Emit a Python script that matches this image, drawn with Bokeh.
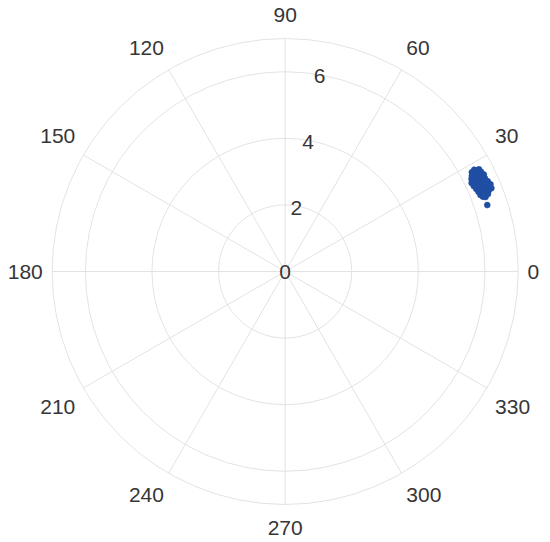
import math
from bokeh.plotting import figure
from bokeh.models import Range1d, ColumnDataSource
from bokeh.core.properties import value
from bokeh.embed import file_html
from bokeh.resources import INLINE

# data (theta in degrees, radius)
theta_deg = [28.0, 27.7, 27.4, 27.8, 27.1, 26.7, 27.0, 26.4, 26.1, 25.7,
             26.0, 25.4, 25.1, 24.7, 25.0, 24.4, 24.1, 23.7, 24.0, 23.4,
             23.1, 22.7, 23.0, 22.4, 22.1, 21.7, 22.0, 21.4, 21.1, 20.7,
             20.9, 26.5, 25.2, 24.2, 23.2, 22.2, 28.3, 26.2, 21.5, 20.4,
             18.2]
radius = [6.35, 6.50, 6.42, 6.58, 6.30, 6.45, 6.60, 6.25, 6.38, 6.52,
          6.64, 6.20, 6.33, 6.48, 6.62, 6.22, 6.36, 6.50, 6.66, 6.25,
          6.40, 6.55, 6.70, 6.28, 6.42, 6.58, 6.68, 6.30, 6.45, 6.35,
          6.52, 6.40, 6.55, 6.58, 6.52, 6.46, 6.45, 6.48, 6.40, 6.42,
          6.39]

r_ticks = [2, 4, 6]
r_max = 7
theta_ticks = [0, 30, 60, 90, 120, 150, 180, 210, 240, 270, 300, 330]
theta_labels = [str(t) for t in theta_ticks]

grid_color = "#e3e3e3"
text_color = "#363636"
font = "Liberation Sans"

p = figure(width=550, height=542, output_backend="svg", toolbar_location=None,
           x_range=Range1d(-8.55, 7.97), y_range=Range1d(-8.14, 8.14),
           min_border=0)
p.axis.visible = False
p.grid.visible = False
p.outline_line_color = None
p.background_fill_color = "white"

# circles
for r in r_ticks + [r_max]:
    p.circle(x=[0], y=[0], radius=r, radius_units="data", fill_color=None,
             line_color=grid_color, line_width=1)

# spokes
xs0, ys0, xs1, ys1 = [], [], [], []
for t in theta_ticks:
    a = math.radians(t)
    xs0.append(0); ys0.append(0)
    xs1.append(r_max * math.cos(a)); ys1.append(r_max * math.sin(a))
p.segment(x0=xs0, y0=ys0, x1=xs1, y1=ys1, line_color=grid_color, line_width=1)

# theta labels
R_lab = 7.28
for t, lab in zip(theta_ticks, theta_labels):
    a = math.radians(t)
    c, s = math.cos(a), math.sin(a)
    align = "left" if c > 0.1 else ("right" if c < -0.1 else "center")
    base = "bottom" if s > 0.1 else ("top" if s < -0.1 else "middle")
    yoff = -7 if s > 0.1 else (7 if s < -0.1 else 0)
    p.text(x=[R_lab * c], y=[R_lab * s], text=[lab], text_align=align,
           text_baseline=base, y_offset=yoff, text_font=value(font),
           text_font_size="21px", text_color=text_color)

# radial labels
ra = math.radians(80)
rl_x = [0] + [(r - 0.05) * math.cos(ra) for r in r_ticks]
rl_y = [0] + [(r - 0.05) * math.sin(ra) for r in r_ticks]
rl_t = ["0"] + [str(r) for r in r_ticks]
p.text(x=rl_x, y=rl_y, text=rl_t, text_align="center", text_baseline="middle",
       text_font=value(font), text_font_size="21px", text_color=text_color)

# data
xs = [r * math.cos(math.radians(t)) for t, r in zip(theta_deg, radius)]
ys = [r * math.sin(math.radians(t)) for t, r in zip(theta_deg, radius)]
src = ColumnDataSource(dict(x=xs, y=ys))
p.scatter(x="x", y="y", source=src, size=6, fill_color="#1f4ea3",
          line_color="#1f4ea3", line_width=0.5)

open("out.html", "w").write(file_html(p, INLINE))
